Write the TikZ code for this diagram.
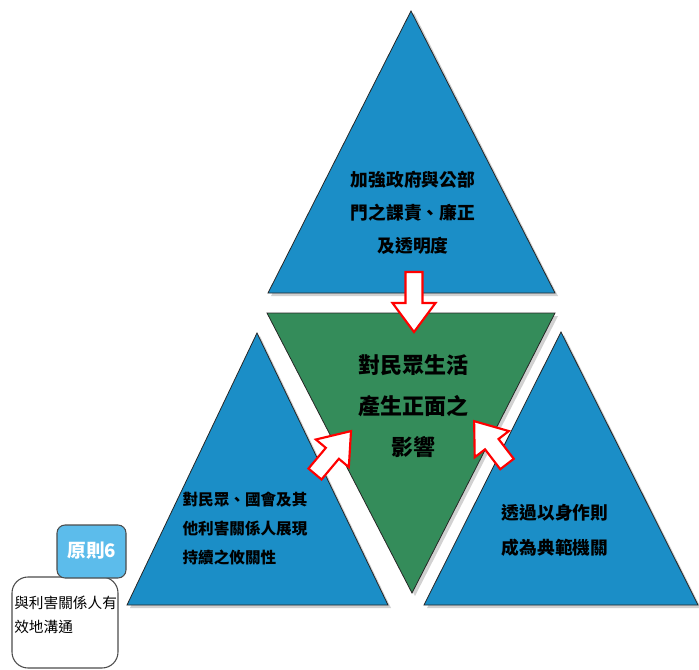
\documentclass[tikz,border=0pt]{standalone}
\usepackage{fontspec}
\newfontfamily\cjk{Noto Sans CJK TC}
\definecolor{triblue}{RGB}{27,142,199}
\definecolor{trigreen}{RGB}{52,140,90}
\definecolor{lblue}{RGB}{92,188,235}
\tikzset{
  tri/.style={draw=black!85, line width=0.6pt},
  trishadow/.style={fill=black!40, opacity=0.45},
  arr/.style={draw=red, fill=white, line width=1.6pt, line join=miter},
  txt/.style={align=center, inner sep=0pt, text=black},
}
\newcommand\blockarrow[3]{%
  \begin{scope}[shift={#1}, rotate=#2]
    \draw[arr] (0,-8.5) -- (#3-29,-8.5) -- (#3-29,-21.5) -- (#3,0)
      -- (#3-29,21.5) -- (#3-29,8.5) -- (0,8.5) -- cycle;
  \end{scope}}
\begin{document}
\begin{tikzpicture}[x=0.75pt, y=-0.75pt]
\useasboundingbox (0,0) rectangle (699,670);
% shadows
\fill[trishadow] (414,13) -- (558,296) -- (271,296) -- cycle;
\fill[trishadow] (270,316) -- (558,316) -- (415,596) -- cycle;
\fill[trishadow] (260,336) -- (391,608) -- (130,608) -- cycle;
\fill[trishadow] (564,335) -- (701,608) -- (427,608) -- cycle;
% triangles
\draw[tri, fill=triblue] (411,11) -- (555,293) -- (268,293) -- cycle;
\draw[tri, fill=trigreen] (267,313) -- (555,313) -- (412,593) -- cycle;
\draw[tri, fill=triblue] (257,333) -- (388,605) -- (127,605) -- cycle;
\draw[tri, fill=triblue] (561,332) -- (698,605) -- (424,605) -- cycle;
% texts
\node[txt, font=\cjk\bfseries\fontsize{13.3}{24.75}\selectfont] (ttop) at (413,213)
  {加強政府與公部\\門之課責、廉正\\及透明度};
\node[txt, font=\cjk\bfseries\fontsize{16.5}{30.75}\selectfont] (tmid) at (413,406)
  {對民眾生活\\產生正面之\\影響};
\node[txt, align=left, font=\cjk\bfseries\fontsize{11.7}{21.75}\selectfont] (tleft) at (245,529)
  {對民眾、國會及其\\他利害關係人展現\\持續之攸關性};
\node[txt, font=\cjk\bfseries\fontsize{13.3}{26.25}\selectfont] (tright) at (555,530)
  {透過以身作則\\成為典範機關};
% arrows
\coordinate (atop) at (414,272);
\coordinate (aleft) at (315,474);
\coordinate (aright) at (507,464);
\blockarrow{(atop)}{-90}{60}
\blockarrow{(aleft)}{50}{56}
\blockarrow{(aright)}{127.5}{54}
% principle box
\draw[draw=black!70, line width=0.8pt, rounded corners=12pt, fill=white]
  (12,577) rectangle (118,668);
\node[txt, align=left, anchor=west, font=\cjk\fontsize{11}{18}\selectfont] (pbox) at (14,615)
  {與利害關係人有\\效地溝通};
\draw[draw=black!70, line width=0.8pt, rounded corners=6pt, fill=lblue]
  (57,525) rectangle (126,578);
\node[txt, text=white, font=\cjk\bfseries\fontsize{14}{16}\selectfont] (plabel) at (92,551) {原則6};
\end{tikzpicture}
\end{document}
